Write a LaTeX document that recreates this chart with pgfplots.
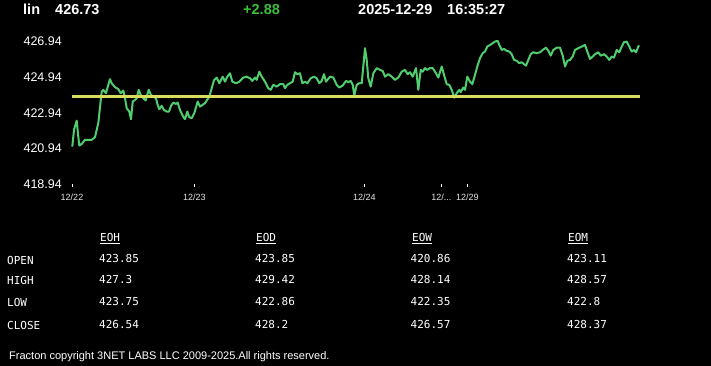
\documentclass[border=0pt]{standalone}
\usepackage{pgfplots}
\pgfplotsset{compat=1.18}
\usepackage{fontspec}
\setmainfont{Liberation Sans}
\setmonofont{DejaVu Sans Mono}
\definecolor{lgreen}{RGB}{80,205,110}
\definecolor{lyellow}{RGB}{215,220,95}
\definecolor{chg}{RGB}{60,190,60}
\begin{document}
\begin{tikzpicture}[x=1pt,y=1pt]
\fill[black] (0,0) rectangle (711,366);
\useasboundingbox (0,0) rectangle (711,366);
% header
\begin{scope}[every node/.style={anchor=base west, inner sep=0pt, font=\fontsize{14.5}{16}\selectfont\bfseries, text=white}]
\node at (23,351.5) {lin};
\node at (55,351.5) {426.73};
\node[text=chg] at (243,351.5) {+2.88};
\node at (358,351.5) {2025-12-29};
\node at (447,351.5) {16:35:27};
\end{scope}
\begin{axis}[
  at={(60pt,182pt)}, anchor=south west,
  scale only axis, width=590pt, height=152.37pt,
  xmin=60, xmax=650, ymin=418.94, ymax=427.5,
  axis line style={draw=none},
  tick align=outside, xtick pos=bottom, ytick pos=left,
  major tick length=3pt,
  xtick={72,194.3,364.3,441.3,467.3},
  xticklabels={{12/22},{12/23},{12/24},{12/{.}{.}{.}},{12/29}},
  ytick={418.94,420.94,422.94,424.94,426.94},
  yticklabels={418.94,420.94,422.94,424.94,426.94},
  x tick style={white, line width=1pt},
  y tick style={draw=none},
  xticklabel style={font=\fontsize{9}{10}\selectfont, text=white!90!black, yshift=-3.5pt},
  yticklabel style={font=\fontsize{12.5}{14}\selectfont, text=white, inner sep=0pt, xshift=5pt},
  clip=false,
]
\addplot[lgreen, line width=2pt, line join=round] coordinates {
(72.3,421.04) (74,421.98) (76.7,422.50) (78.3,421.60) (79.3,421.10) (81.7,421.19)
(85,421.42) (88.3,421.42) (91.7,421.42) (95,421.57) (98.3,422.36) (101.7,424.13)
(103.3,424.23) (106,424.04) (108.3,424.51) (110,424.83) (111.7,424.60) (115,424.38)
(118.3,424.27) (120.7,424.04) (123.3,424.19) (125,423.76) (126.7,423.20) (129.3,423.01)
(131,422.58) (132.7,423.57) (135,423.66) (136.7,423.76) (138.7,424.23) (140.7,423.95)
(143.3,423.76) (145.7,423.63) (148.7,424.23) (151,423.95) (153.3,423.85) (156,423.76)
(157.7,423.38) (159.3,423.14) (161.7,423.33) (164,423.10) (166.7,423.01) (169,423.01)
(171,423.33) (173.3,423.51) (176,423.44) (177.7,423.51) (180,423.10) (182.7,422.77)
(185,422.58) (187.3,423.01) (189.3,422.69) (191.7,422.64) (194.3,422.92) (197.7,423.57)
(200,423.29) (205,423.48) (209.3,423.85) (214,424.77) (216.7,424.92) (219.3,424.60)
(222.7,424.97) (225,424.69) (227.3,424.97) (230,425.16) (232.3,424.69) (236,424.60)
(239.3,424.69) (243.3,424.92) (246.7,424.97) (250,424.88) (252.3,424.73) (255,424.92)
(256.7,424.79) (259.3,425.25) (261.7,424.97) (265,424.69) (268.3,424.32) (270.7,424.23)
(273.3,424.51) (276.7,424.41) (280,424.55) (283.3,424.55) (285,424.32) (287.3,424.51)
(290,424.60) (292.7,424.69) (295,425.22) (297.3,425.11) (300,425.16) (302.3,424.60)
(305,424.69) (307.3,424.60) (310.7,424.88) (314,424.97) (316.7,424.88) (319.3,424.60)
(321.7,424.73) (324,425.11) (326,424.69) (330,424.97) (333.3,424.92) (336.7,424.51)
(339.3,424.36) (342.7,424.47) (346,424.73) (348.3,424.66) (350.7,424.73) (352.7,424.51)
(354.3,423.91) (356.7,424.51) (359.3,424.60) (361.7,424.60) (363.3,425.54) (365,426.57)
(366.7,425.91) (368.3,424.88) (370.7,424.41) (373.3,425.16) (376.7,425.45) (380,425.35)
(382.7,425.29) (385,424.97) (388.3,425.11) (391.7,424.97) (395,424.79) (398.3,424.92)
(401.7,425.25) (405,425.35) (407.7,425.11) (410,425.22) (412.7,424.97) (416,425.45)
(418.3,424.23) (420.7,425.35) (422.7,425.25) (425,425.45) (427.3,425.35) (430,425.45)
(432.7,425.45) (436,425.16) (438.3,424.92) (441.7,425.54) (444,425.07) (446.7,424.55)
(449.3,424.51) (451.7,424.23) (454.3,423.79) (456.7,424.04) (459.3,424.23) (460.7,424.10)
(463.3,424.36) (465,424.23) (467.3,424.97) (470,424.69) (472.3,424.55) (475,425.07)
(477.3,425.54) (480,426.01) (482.7,426.29) (485,426.38) (487.3,426.66) (490,426.75)
(492.7,426.85) (495,426.94) (497.7,426.98) (499.3,426.75) (501.7,426.47) (504,426.53)
(506.7,426.42) (509.3,426.38) (511.7,426.23) (514,425.91) (516.7,425.86) (519.3,425.73)
(521.7,425.78) (524,425.67) (526,425.59) (528.3,425.91) (530.7,426.23) (533.3,426.34)
(536.7,426.29) (540,426.34) (542.7,426.47) (546,426.60) (548.3,426.42) (550.7,426.15)
(553.3,426.47) (556.7,426.60) (560,426.60) (562.7,426.15) (565,425.54) (567.3,425.86)
(570,425.91) (572.7,426.10) (575,426.47) (578.3,426.57) (581.7,426.66) (585,426.75)
(587.3,426.38) (590,425.97) (592.7,426.10) (595,426.23) (598.3,426.34) (600.7,426.15)
(604,426.23) (606.7,426.10) (609.3,425.91) (611.7,426.10) (614,426.04) (616.7,426.47)
(619.3,426.34) (621.7,426.66) (624,426.91) (626.7,426.94) (629.3,426.66) (631.7,426.38)
(634,426.47) (636,426.34) (638.3,426.66) (639,426.73)
};
\addplot[lyellow, line width=2.2pt] coordinates {(72,423.85) (640,423.85)};
\end{axis}
% table
\begin{scope}[every node/.style={anchor=base west, inner sep=0pt, font=\fontsize{11}{12}\selectfont\ttfamily, text=white}]
\node at (100,366-241.7) {\underline{EOH}};
\node at (256,366-241.7) {\underline{EOD}};
\node at (412,366-241.7) {\underline{EOW}};
\node at (568,366-241.7) {\underline{EOM}};
\node at (7,366-264.3) {OPEN};
\node at (7,366-285) {HIGH};
\node at (7,366-306.7) {LOW};
\node at (7,366-329.3) {CLOSE};
\node at (99,366-262.5) {423.85};
\node at (255,366-262.5) {423.85};
\node at (410.5,366-262.5) {420.86};
\node at (567,366-262.5) {423.11};
\node at (99,366-284) {427.3};
\node at (255,366-284) {429.42};
\node at (410.5,366-284) {428.14};
\node at (567,366-284) {428.57};
\node at (99,366-306) {423.75};
\node at (255,366-306) {422.86};
\node at (410.5,366-306) {422.35};
\node at (567,366-306) {422.8};
\node at (99,366-328.7) {426.54};
\node at (255,366-328.7) {428.2};
\node at (410.5,366-328.7) {426.57};
\node at (567,366-328.7) {428.37};
\end{scope}
\node[anchor=base west, inner sep=0pt, font=\fontsize{11}{12}\selectfont, text=white] at (9,366-360) {Fracton copyright 3NET LABS LLC 2009-2025.All rights reserved.};
\end{tikzpicture}
\end{document}
